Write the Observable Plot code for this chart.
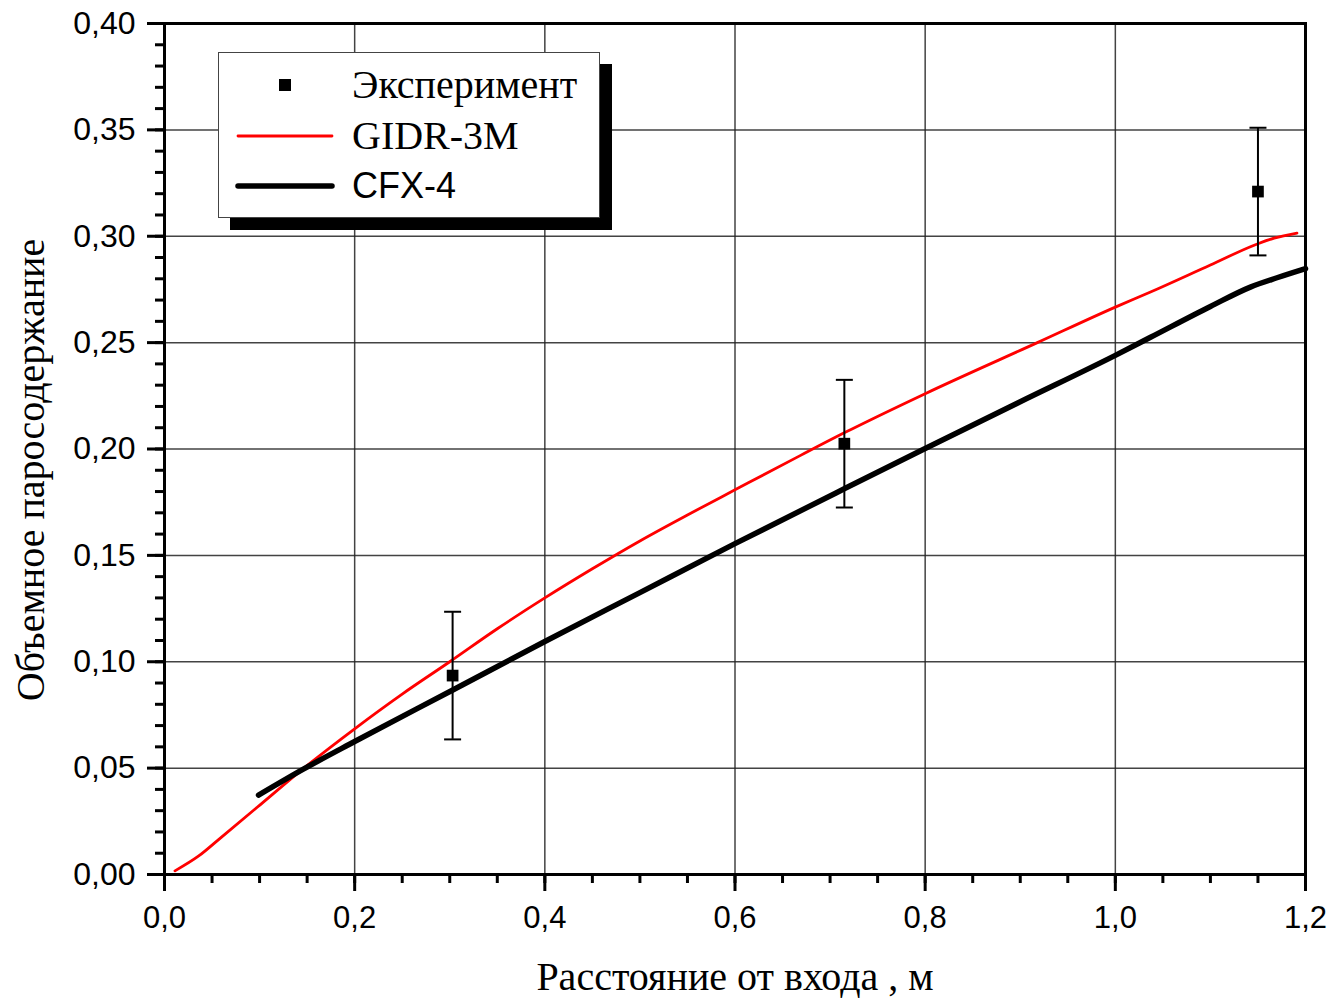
<!DOCTYPE html>
<html>
<head>
<meta charset="utf-8">
<script src="https://cdn.jsdelivr.net/npm/d3@7"></script>
<script src="https://cdn.jsdelivr.net/npm/@observablehq/plot@0.6"></script>
<style>
  html, body { margin: 0; padding: 0; background: #fff; overflow: hidden; }
  #chart { position: relative; width: 1336px; height: 1000px; }
  #legend { position: absolute; left: 218px; top: 52px; }
</style>
</head>
<body>
<div id="chart"></div>
<script>
// Experimental points (distance from inlet, m; void fraction) with error half-widths
const expX = [0.303, 0.715, 1.15];
const expY = [0.0935, 0.2025, 0.321];
const expErr = [0.03, 0.03, 0.03];

// GIDR-3M calculation
const gidrX = [0.011, 0.036, 0.06, 0.0975, 0.146, 0.2, 0.25, 0.30, 0.35, 0.40, 0.45, 0.50, 0.55, 0.60, 0.669, 0.7154, 0.80, 0.918, 1.00, 1.037, 1.10, 1.15, 1.167, 1.191];
const gidrY = [0.0017, 0.0087, 0.0176, 0.0316, 0.0498, 0.0685, 0.0848, 0.100, 0.1155, 0.130, 0.1437, 0.1568, 0.169, 0.1808, 0.197, 0.2077, 0.226, 0.250, 0.2667, 0.2738, 0.2865, 0.2965, 0.2991, 0.3015];

// CFX-4 calculation
const cfxX = [0.0989, 0.146, 0.2, 0.3027, 0.4, 0.5, 0.6, 0.7154, 0.8, 0.9, 1.0, 1.037, 1.10, 1.142, 1.17, 1.2];
const cfxY = [0.0373, 0.0495, 0.0625, 0.0866, 0.1095, 0.1325, 0.1555, 0.1814, 0.2002, 0.2222, 0.244, 0.2525, 0.267, 0.2761, 0.2805, 0.2848];

// Axis ticks
const xMajor = [0, 0.2, 0.4, 0.6, 0.8, 1.0, 1.2];
const xMinor = d3.range(0, 25).map(i => +(i * 0.05).toFixed(2));
const yMajor = [0, 0.05, 0.10, 0.15, 0.20, 0.25, 0.30, 0.35, 0.40];
const yMinor = d3.range(0, 41).map(i => +(i * 0.01).toFixed(2));

const xTitle = "Расстояние от входа , м";
const yTitle = "Объемное паросодержание";
const legendLabels = ["Эксперимент", "GIDR-3M", "CFX-4"];

const exp = expX.map((x, i) => ({x, y: expY[i], lo: expY[i] - expErr[i], hi: expY[i] + expErr[i]}));
const gidr = gidrX.map((x, i) => ({x, y: gidrY[i]}));
const cfx = cfxX.map((x, i) => ({x, y: cfxY[i]}));

const comma = (digits) => (d) => d.toFixed(digits).replace(".", ",");

// horizontal bar used as an error-bar cap
const capSymbol = {
  draw(context, size) {
    const r = Math.sqrt(size / Math.PI);
    context.moveTo(-r, 0);
    context.lineTo(r, 0);
  }
};

const serif = "'Liberation Serif', 'Times New Roman', serif";
const sans = "'Liberation Sans', Arial, sans-serif";

const chart = Plot.plot({
  width: 1336,
  height: 1000,
  marginLeft: 164,
  marginRight: 31,
  marginTop: 23,
  marginBottom: 126,
  style: {fontFamily: sans, fontSize: "31px", color: "#000", background: "#fff", overflow: "visible"},
  x: {domain: [0, 1.2]},
  y: {domain: [0, 0.4]},
  marks: [
    Plot.gridX(xMajor, {stroke: "#222", strokeOpacity: 0.85, strokeWidth: 1.5}),
    Plot.gridY(yMajor, {stroke: "#222", strokeOpacity: 0.85, strokeWidth: 1.5}),
    // minor ticks
    Plot.axisX({ticks: xMinor, tickSize: 9, text: null, label: null, strokeWidth: 3}),
    Plot.axisY({ticks: yMinor, tickSize: 9, text: null, label: null, strokeWidth: 3}),
    // major ticks with labels
    Plot.axisX({ticks: xMajor, tickSize: 17, tickPadding: 14, tickFormat: comma(1), label: null, strokeWidth: 3, fontSize: 31}),
    Plot.axisY({ticks: yMajor, tickSize: 17, tickPadding: 12, tickFormat: comma(2), label: null, strokeWidth: 3, fontSize: 32}),
    Plot.frame({stroke: "#000", strokeWidth: 3}),
    // calculations
    Plot.line(gidr, {x: "x", y: "y", stroke: "#ff0000", strokeWidth: 2.8, curve: "monotone-x"}),
    Plot.line(cfx, {x: "x", y: "y", stroke: "#000", strokeWidth: 5.5, curve: "monotone-x"}),
    // experiment with error bars
    Plot.ruleX(exp, {x: "x", y1: "lo", y2: "hi", stroke: "#000", strokeWidth: 2}),
    Plot.dot(exp, {x: "x", y: "lo", symbol: capSymbol, r: 8.5, stroke: "#000", strokeWidth: 2}),
    Plot.dot(exp, {x: "x", y: "hi", symbol: capSymbol, r: 8.5, stroke: "#000", strokeWidth: 2}),
    Plot.dot(exp, {x: "x", y: "y", symbol: "square", r: 6.6, fill: "#000", stroke: null}),
    // axis titles
    Plot.text([xTitle], {frameAnchor: "bottom", textAnchor: "middle", lineAnchor: "middle", dy: 103, fontFamily: serif, fontSize: 40, fill: "#000"}),
    Plot.text([yTitle], {frameAnchor: "left", textAnchor: "middle", lineAnchor: "middle", rotate: -90, dx: -133, dy: 21, fontFamily: serif, fontSize: 40, fill: "#000"})
  ]
});

const root = document.getElementById("chart");
root.appendChild(chart);

// Legend box with drop shadow
const lw = 382, lh = 166, shadow = 12;
const legend = d3.select(root).append("svg")
  .attr("id", "legend")
  .attr("width", lw + shadow + 2)
  .attr("height", lh + shadow + 2);
legend.append("rect").attr("x", shadow).attr("y", shadow).attr("width", lw).attr("height", lh).attr("fill", "#000");
legend.append("rect").attr("x", 0.5).attr("y", 0.5).attr("width", lw - 1).attr("height", lh - 1)
  .attr("fill", "#fff").attr("stroke", "#444").attr("stroke-width", 1);

const rows = [
  {label: legendLabels[0], font: serif, size: 40, baseline: 46, swatch: "square"},
  {label: legendLabels[1], font: serif, size: 40, baseline: 97, swatch: "line", color: "#ff0000", width: 2.8, cy: 84},
  {label: legendLabels[2], font: sans, size: 36, baseline: 146, swatch: "line", color: "#000", width: 5.5, cy: 134}
];
for (const r of rows) {
  if (r.swatch === "square") {
    legend.append("rect").attr("x", 61).attr("y", 27).attr("width", 12).attr("height", 12).attr("fill", "#000");
  } else {
    legend.append("line").attr("x1", 20).attr("x2", 114).attr("y1", r.cy).attr("y2", r.cy)
      .attr("stroke", r.color).attr("stroke-width", r.width).attr("stroke-linecap", "round");
  }
  legend.append("text").attr("x", 134).attr("y", r.baseline)
    .attr("font-family", r.font).attr("font-size", r.size).attr("fill", "#000").text(r.label);
}
</script>
</body>
</html>
